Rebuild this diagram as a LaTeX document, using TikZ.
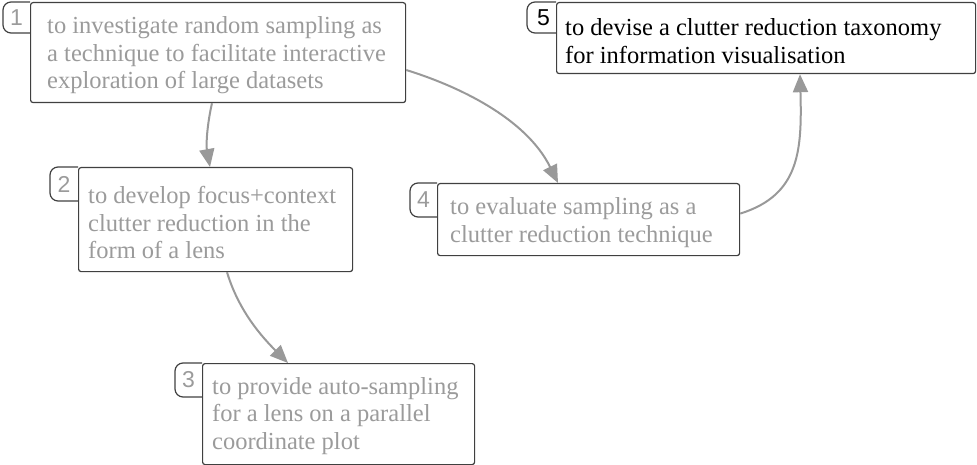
\documentclass[tikz,border=0pt]{standalone}
\usepackage{fontspec}
\setmainfont{Liberation Serif}
\newfontfamily\numfont{Liberation Sans}
\usetikzlibrary{arrows.meta}
\definecolor{txtgray}{HTML}{9B9B9B}
\definecolor{boxline}{HTML}{404040}
\definecolor{arrgray}{HTML}{999999}
\begin{document}
\begin{tikzpicture}[x=1pt,y=-1pt,
  box/.style={draw=boxline, line width=1.2pt, rounded corners=2.5pt, inner sep=0pt, anchor=north west, fill=white},
  txt/.style={inner sep=0pt, anchor=west, align=left, font=\fontsize{24.5pt}{27.5pt}\selectfont, text=txtgray},
  num/.style={inner sep=0pt, font=\numfont\fontsize{23pt}{23pt}\selectfont, text=txtgray},
  tab/.style={draw=boxline, line width=1.2pt, rounded corners=8pt},
  link/.style={draw=arrgray, line width=2pt, -{Triangle[length=18pt,width=15pt]}}]
\useasboundingbox (0,0) rectangle (977,465);

% boxes
\node[box, minimum width=375pt, minimum height=100pt] (b1) at (30,2) {};
\node[box, minimum width=274pt, minimum height=104pt] (b2) at (78,167) {};
\node[box, minimum width=272pt, minimum height=101pt] (b3) at (202,363) {};
\node[box, minimum width=302pt, minimum height=72pt] (b4) at (437,183) {};
\node[box, minimum width=419pt, minimum height=71pt] (b5) at (556,2) {};

% tabs
\draw[tab] (b1.north west) -- ++(-27,0) -- ++(0,31) -- ++(27,0);
\draw[tab] (b2.north west) -- ++(-28,0) -- ++(0,34) -- ++(28,0);
\draw[tab] (b3.north west) -- ++(-27,0) -- ++(0,34) -- ++(27,0);
\draw[tab] (b4.north west) -- ++(-27,0) -- ++(0,34) -- ++(27,0);
\draw[tab] (b5.north west) -- ++(-29,0) -- ++(0,31) -- ++(29,0);

% numbers
\node[num] (n1) at ([xshift=-13.5pt,yshift=-15.5pt]b1.north west) {1};
\node[num] (n2) at ([xshift=-14pt,yshift=-17pt]b2.north west) {2};
\node[num] (n3) at ([xshift=-13.5pt,yshift=-17pt]b3.north west) {3};
\node[num] (n4) at ([xshift=-13.5pt,yshift=-17pt]b4.north west) {4};
\node[num, text=black] (n5) at ([xshift=-12.5pt,yshift=-15.5pt]b5.north west) {5};

% texts
\node[txt] (x1) at ([xshift=17pt,yshift=-3pt]b1.west) {to investigate random sampling as\\a technique to facilitate interactive\\exploration of large datasets};
\node[txt] (x2) at ([xshift=10pt,yshift=-3pt]b2.west) {to develop focus+context\\clutter reduction in the\\form of a lens};
\node[txt] (x3) at ([xshift=10pt,yshift=-2pt]b3.west) {to provide auto-sampling\\for a lens on a parallel\\coordinate plot};
\node[txt] (x4) at ([xshift=13pt,yshift=-3pt]b4.west) {to evaluate sampling as a\\clutter reduction technique};
\node[txt, text=black] (x5) at ([xshift=9pt,yshift=-3pt]b5.west) {to devise a clutter reduction taxonomy\\for information visualisation};

% connectors
\draw[link] ([xshift=182pt]b1.south west) .. controls (207,125) and (206,145) .. ([xshift=132pt]b2.north west);
\draw[link] ([yshift=-68pt]b1.north east) .. controls (458,86) and (526,118) .. ([xshift=121pt]b4.north west);
\draw[link] ([xshift=149pt]b2.south west) .. controls (237,305) and (255,330) .. ([xshift=86pt]b3.north west);
\draw[link] ([yshift=6pt]b4.east) .. controls (800,195) and (802,150) .. ([xshift=244pt]b5.south west);
\end{tikzpicture}
\end{document}
